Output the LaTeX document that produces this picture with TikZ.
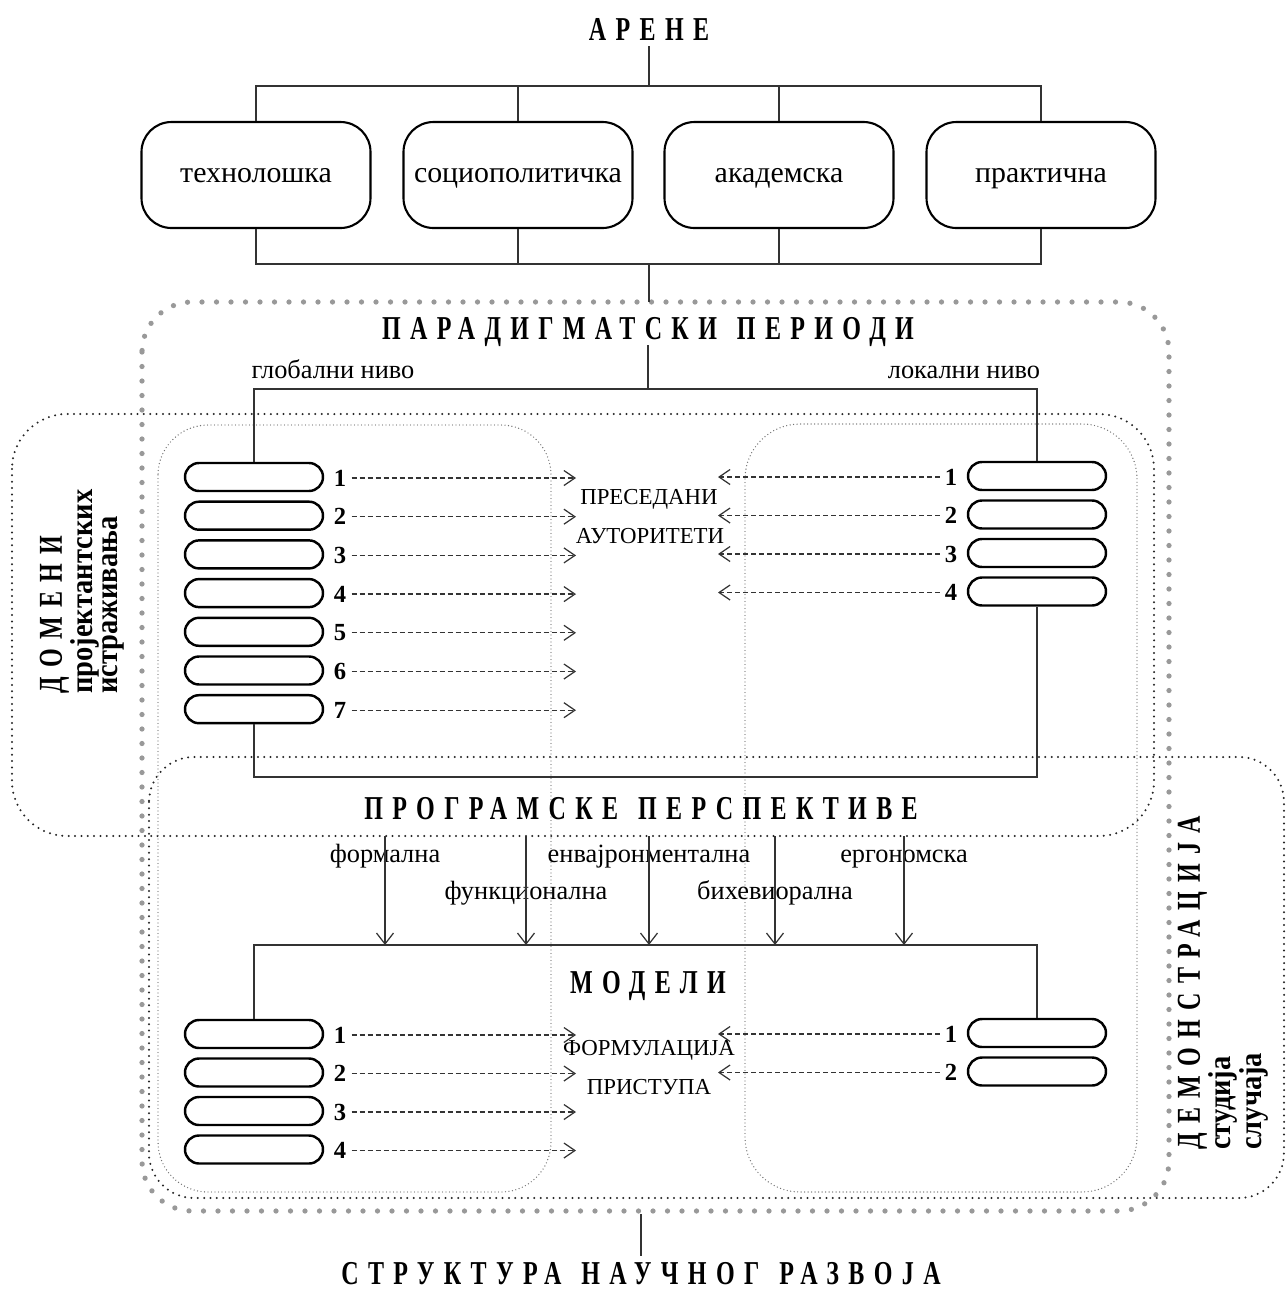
\documentclass[tikz,border=0pt]{standalone}
\usepackage{fontspec}
\setmainfont{Liberation Serif}
\newfontfamily\spaced{Liberation Serif}[LetterSpace=28,FakeStretch=0.72,WordSpace=1.3]
\newfontfamily\narrow{Liberation Serif}[FakeStretch=0.9]
\usetikzlibrary{arrows.meta}

\tikzset{
  arena/.style={draw, line width=1.2pt, rounded corners=6mm, minimum width=45.8mm,
    minimum height=21.2mm, text height=9pt, text depth=1pt,
    font=\fontsize{17}{20}\selectfont},
  pill/.style={draw, line width=1.4pt, rounded corners=2.8mm, minimum width=27.6mm,
    minimum height=5.6mm},
  headline/.style={font=\spaced\bfseries\fontsize{19}{22}\selectfont,
    text height=12.6pt, text depth=0pt},
  lbl/.style={font=\fontsize{15}{18}\selectfont, text height=8pt, text depth=1.1pt},
  midtext/.style={font=\fontsize{13}{16}\selectfont, text height=9pt, text depth=0.4pt},
  num/.style={font=\bfseries\fontsize{14}{16}\selectfont, inner sep=1mm},
  link/.style={line width=0.7pt, black!80},
  darr/.style={line width=0.7pt, black!80, dash pattern=on 1mm off 0.6mm,
    -{Straight Barb[length=2.2mm,width=3mm]}},
  varr/.style={link, -{Straight Barb[length=2.2mm,width=3.4mm]}},
  bigdots/.style={draw=black!40, line width=1.05mm, line cap=round,
    dash pattern=on 0pt off 2.9mm, rounded corners=10mm},
  blackdots/.style={draw=black!85, line width=0.45mm, line cap=round,
    dash pattern=on 0pt off 1.27mm, rounded corners=11mm},
  finedots/.style={draw=black!55, line width=0.28mm, line cap=round,
    dash pattern=on 0pt off 0.7mm, rounded corners=10mm},
}

\begin{document}
\begin{tikzpicture}[x=0.2mm,y=-0.2mm]
\useasboundingbox (0,0) rectangle (1287,1290);

% frames
\draw[bigdots] (142,302) rectangle (1169,1211);
\draw[blackdots] (12,414) rectangle (1154,836);
\draw[blackdots, rounded corners=9mm] (149,757) rectangle (1284,1198);
\draw[finedots] (158,425) rectangle (551,1192);
\draw[finedots, rounded corners=11mm] (745,424) rectangle (1137,1192);

% arenas
\node[headline] (arene) at (649,29) {АРЕНЕ};
\node[arena] (tech) at (256,175) {технолошка};
\node[arena] (socio) at (518,175) {социополитичка};
\node[arena] (akad) at (779,175) {академска};
\node[arena] (prakt) at (1041,175) {практична};
\node[coordinate] (bus1) at (649,86) {};
\node[coordinate] (bus2) at (649,264) {};
\node[coordinate] (frtop) at (649,302) {};
\draw[link] (arene.south) -- (bus1);
\draw[link] (tech.north) |- (bus1) -| (prakt.north);
\draw[link] (socio.north) -- (socio.north |- bus1);
\draw[link] (akad.north) -- (akad.north |- bus1);
\draw[link] (tech.south) |- (bus2) -| (prakt.south);
\draw[link] (socio.south) -- (socio.south |- bus2);
\draw[link] (akad.south) -- (akad.south |- bus2);
\draw[link] (bus2) -- (frtop);

% paradigm periods
\node[headline] (parad) at (648,328) {ПАРАДИГМАТСКИ ПЕРИОДИ};
\node[coordinate] (bus3) at (648,389) {};
\node[lbl] (glob) at (333,372) {глобални ниво};
\node[lbl] (lok) at (964,372) {локални ниво};
\node[coordinate] (tipl) at (576,0) {};
\node[coordinate] (tipr) at (718,0) {};
\foreach \i in {1,...,7} {
  \node[pill] (g\i) at (254,{477+38.7*(\i-1)}) {};
  \node[num] (gn\i) at (340,{478+38.7*(\i-1)}) {\i};
  \draw[darr] (gn\i.east) -- (gn\i.east -| tipl);
}
\foreach \i in {1,...,4} {
  \node[pill] (l\i) at (1037,{476+38.5*(\i-1)}) {};
  \node[num] (ln\i) at (951,{477+38.5*(\i-1)}) {\i};
  \draw[darr] (ln\i.west) -- (ln\i.west -| tipr);
}
\node[midtext] (presed) at (649,497) {ПРЕСЕДАНИ};
\node[midtext] (autor) at (650,536) {АУТОРИТЕТИ};
\draw[link] (parad.south) -- (bus3);
\draw[link] (g1.north) |- (bus3) -| (l1.north);

% programme perspectives
\node[coordinate] (bus4) at (648,777) {};
\draw[link] (g7.south) |- (bus4) -| (l4.south);
\node[headline] (persp) at (641,808) {ПРОГРАМСКЕ ПЕРСПЕКТИВЕ};
\node[coordinate] (bus5) at (648,945) {};
\foreach \x/\y/\t [count=\k] in {385/856/формална, 526/893/функционална,
    649/856/енвајронментална, 775/893/бихевиорална, 904/856/ергономска} {
  \node[lbl] (pl\k) at (\x,\y) {\t};
  \node[coordinate] (ps\k) at (\x,836) {};
  \draw[varr] (ps\k) -- (ps\k |- bus5);
}

% models
\node[headline] (model) at (648,982) {МОДЕЛИ};
\foreach \i in {1,...,4} {
  \node[pill] (m\i) at (254,{1034+38.5*(\i-1)}) {};
  \node[num] (mn\i) at (340,{1035+38.5*(\i-1)}) {\i};
  \draw[darr] (mn\i.east) -- (mn\i.east -| tipl);
}
\foreach \i in {1,2} {
  \node[pill] (r\i) at (1037,{1033+38.5*(\i-1)}) {};
  \node[num] (rn\i) at (951,{1034+38.5*(\i-1)}) {\i};
  \draw[darr] (rn\i.west) -- (rn\i.west -| tipr);
}
\draw[link] (m1.north) |- (bus5) -| (r1.north);
\node[midtext] (formul) at (649,1048) {ФОРМУЛАЦИЈА};
\node[midtext] (prist) at (649,1087) {ПРИСТУПА};

% side labels
\node[rotate=90, anchor=west, align=left, inner sep=0pt,
  font=\narrow\bfseries\fontsize{18}{14}\selectfont] (domeni) at (82,694)
  {{\spaced\fontsize{19}{14}\selectfont ДОМЕНИ}\\пројектантских\\истраживања};
\node[rotate=90, anchor=west, align=left, inner sep=0pt,
  font=\narrow\bfseries\fontsize{18}{14}\selectfont] (demon) at (1223,1150)
  {{\spaced\fontsize{19}{14}\selectfont ДЕМОНСТРАЦИЈА}\\студија\\случаја};

% bottom
\node[coordinate] (frbot) at (641,1214) {};
\node[headline] (strukt) at (641,1273) {СТРУКТУРА НАУЧНОГ РАЗВОЈА};
\draw[link] (frbot) -- (strukt.north);
\end{tikzpicture}
\end{document}
